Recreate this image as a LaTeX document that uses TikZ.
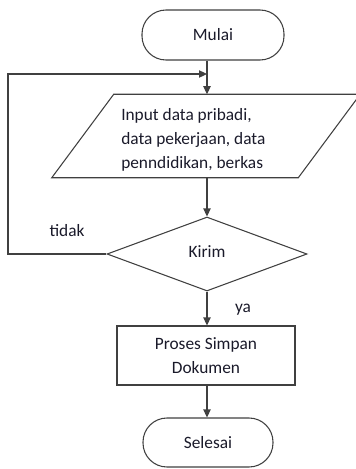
\documentclass[tikz,border=0pt]{standalone}
\usepackage{fontspec}
\setmainfont{Carlito}
\usetikzlibrary{arrows.meta,shapes.geometric}
\definecolor{linec}{HTML}{404040}
\definecolor{txtc}{HTML}{1A1A2A}
\begin{document}
\begin{tikzpicture}[x=0.75pt,y=-0.75pt,
  every node/.style={font=\fontsize{13pt}{18pt}\selectfont, text=txtc},
  term/.style={draw=linec, line width=0.8pt, rectangle, rounded corners=18pt, fill=white},
  procbox/.style={draw=linec, line width=0.8pt, rectangle, fill=white},
  decis/.style={draw=linec, line width=0.8pt, diamond, inner sep=0pt, fill=white},
  conn/.style={draw=linec, line width=0.8pt, -{Triangle[length=6pt,width=5.5pt]}},
  plain/.style={draw=linec, line width=0.8pt}
]
\useasboundingbox (0,0) rectangle (355,469);
\node[term, minimum width=106.5pt, minimum height=37.5pt] (mulai) at (213,35) {Mulai};
\node[draw=none, minimum width=184.5pt, minimum height=62.25pt, inner sep=0pt] (in) at (206,136) {};
\draw[plain] ([xshift=23.25pt]in.north west) -- ([xshift=23.25pt]in.north east) -- ([xshift=-23.25pt]in.south east) -- ([xshift=-23.25pt]in.south west) -- cycle;
\node[anchor=west, align=left, inner sep=0pt] (intext) at (121,140) {Input data pribadi,\\data pekerjaan, data\\penndidikan, berkas};
\node[decis, minimum width=150pt, minimum height=55.5pt] (kirim) at (207,254) {};
\node (kirimtxt) at (207,252) {Kirim};
\node[procbox, minimum width=133.5pt, minimum height=44.25pt, align=center] (proses) at (206,355.5) {Proses Simpan\\Dokumen};
\node[term, minimum width=97.5pt, minimum height=36.75pt] (selesai) at (208,442.5) {Selesai};
\node (tidak) at (67,231) {tidak};
\node (ya) at (243,310) {ya};
\coordinate (join) at (207,74);
\coordinate (lc) at (8,74);
\draw[conn] (mulai.south -| kirim.north) -- (in.north -| kirim.north);
\draw[conn] (in.south -| kirim.north) -- (kirim.north);
\draw[conn] (kirim.south) -- (proses.north -| kirim.south);
\draw[conn] (proses.south -| kirim.south) -- (selesai.north -| kirim.south);
\draw[conn] (kirim.west) -| (lc) -- (join);
\end{tikzpicture}
\end{document}
